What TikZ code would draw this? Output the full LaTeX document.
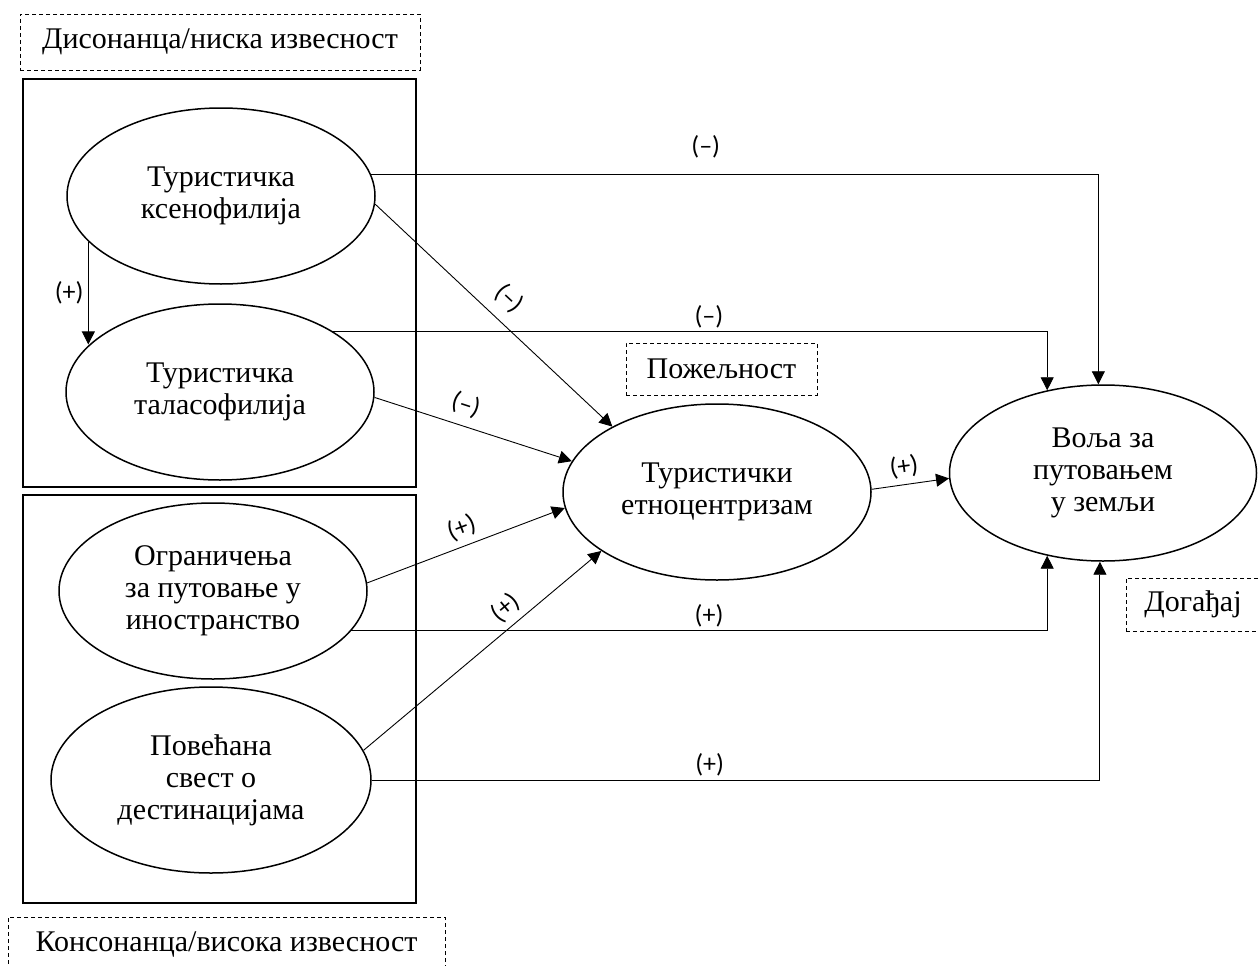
\documentclass[tikz,border=0pt]{standalone}
\usepackage{fontspec}
\setmainfont{Liberation Serif}
\newfontfamily\signfont{Carlito}
\usetikzlibrary{shapes.geometric,arrows.meta}
\tikzset{
  construct/.style = {shape=ellipse, draw, line width=1.5pt, align=center,
                      minimum width=308pt, minimum height=176pt, inner sep=0pt,
                      font=\fontsize{30}{32}\selectfont},
  groupbox/.style  = {shape=rectangle, draw, line width=2.5pt, inner sep=0pt,
                      minimum width=393pt, minimum height=408pt},
  context/.style   = {shape=rectangle, draw, dash pattern=on 4pt off 3pt,
                      line width=0.9pt, inner sep=0pt,
                      font=\fontsize{30}{32}\selectfont},
  link/.style      = {draw, line width=0.9pt,
                      -{Triangle[length=13pt,width=13pt]}},
  sign/.style      = {font=\signfont\fontsize{26}{28}\selectfont}
}

\begin{document}
\begin{tikzpicture}
  [
    x=1pt, y=-1pt
  ]
  \useasboundingbox (0,0) rectangle (1258,966);

  \node [groupbox] (disgroup)  at (219.5,283) {};
  \node [groupbox] (konsgroup) at (219.5,699) {};

  \node [context, minimum width=400pt, minimum height=56pt] (dislabel)  at (220,42)    {Дисонанца/ниска извесност};
  \node [context, minimum width=437pt, minimum height=56pt] (konslabel) at (226.5,945) {Консонанца/висока извесност};
  \node [context, minimum width=191pt, minimum height=52pt] (pozeljnost) at (721.5,369) {Пожељност};
  \node [context, minimum width=134pt, minimum height=53pt] (dogadjaj)   at (1193,604.5) {Догађај};

  \node [construct] (ksen)  at (221,196)  {Туристичка\\ксенофилија};
  \node [construct] (thal)  at (220,392)  {Туристичка\\таласофилија};
  \node [construct] (ogr)   at (213,591)  {Ограничења\\за путовање у\\иностранство};
  \node [construct, minimum width=320pt, minimum height=186pt]
                    (pov)   at (211,780)  {Повећана\\свест о\\дестинацијама};
  \node [construct] (etno)  at (717,492)  {Туристички\\етноцентризам};
  \node [construct, minimum width=307pt]
                    (volja) at (1103,473) {Воља за\\путовањем\\у земљи};

  \draw [link] (ksen.8) -| (volja.93)
    node [sign, pos=.23, above=13pt] {(–)};
  \draw [link] (thal.28) -| (volja.124)
    node [sign, pos=.263, above=0pt] {(–)};
  \draw [link] (ogr.-16) -| (volja.236)
    node [sign, pos=.257, above=0pt] {(+)};
  \draw [link] (pov.east) -| (volja.268)
    node [sign, pos=.232, above=0pt] {(+)};

  \draw [link] (ksen.199) -- (ksen.199 |- thal.160)
    node [sign, midway, left=1pt] {(+)};

  \draw [link] (ksen.-3) -- (etno.148)
    node [sign, pos=.5, sloped, above=8pt] {(–)};
  \draw [link] (thal.-2) -- (etno.168)
    node [sign, pos=.43, sloped, above=6pt] {(–)};
  \draw [link] (ogr.3) -- (etno.186)
    node [sign, pos=.51, sloped, above=3pt] {(+)};
  \draw [link] (pov.11) -- (etno.207)
    node [sign, pos=.645, sloped, above=3pt] {(+)};
  \draw [link] (etno.1) -- (volja.182)
    node [sign, pos=.45, sloped, above=3pt] {(+)};
\end{tikzpicture}
\end{document}
